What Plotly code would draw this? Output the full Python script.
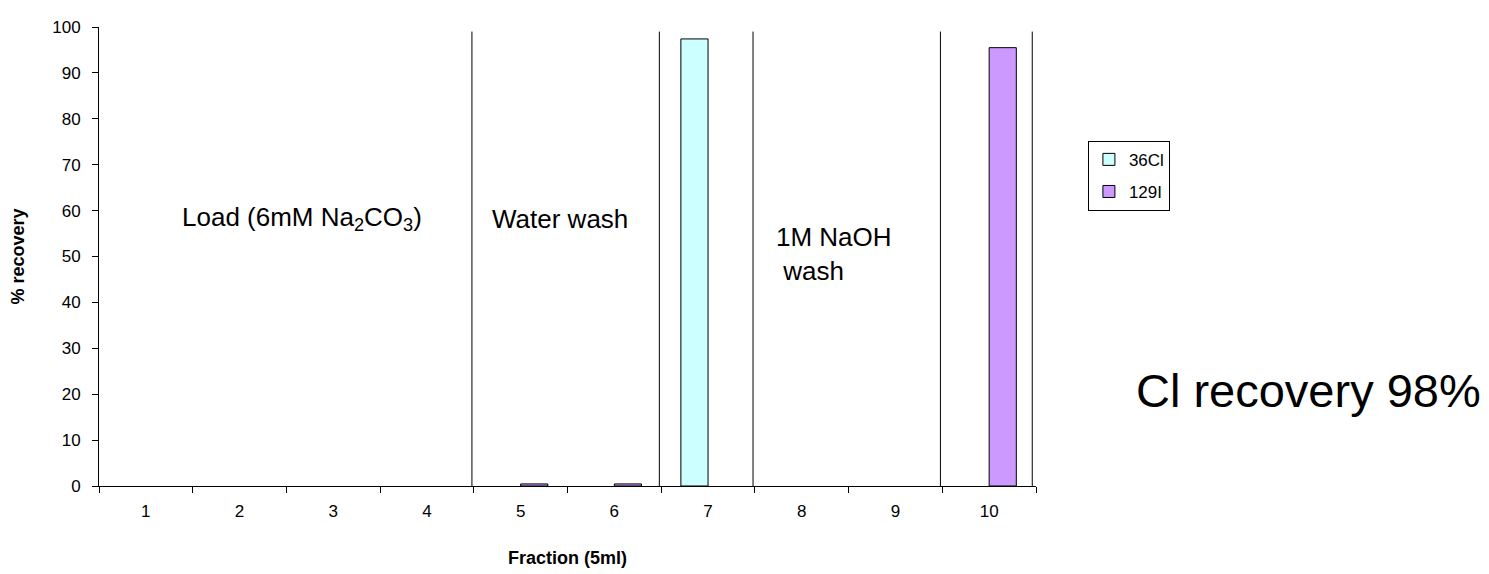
import plotly.graph_objects as go

fractions = ["1", "2", "3", "4", "5", "6", "7", "8", "9", "10"]
cl36 = [None, None, None, None, None, None, 97.4, None, None, None]
i129 = [None, None, None, None, 0.45, 0.45, None, None, None, 95.5]
divider_x = [3.48, 5.48, 6.48, 8.48, 9.46]
divider_top = 99

FONT = "Liberation Sans, Arial, sans-serif"

fig = go.Figure()
fig.add_trace(go.Bar(x=fractions, y=cl36, name="36Cl", legendgroup="a",
                     marker=dict(color="#CCFFFF", line=dict(color="black", width=1))))
fig.add_trace(go.Bar(x=fractions, y=i129, name="129I", legendgroup="b",
                     marker=dict(color="#CC99FF", line=dict(color="black", width=1))))

for xv in divider_x:
    fig.add_shape(type="line", xref="x", yref="y", x0=xv, x1=xv, y0=0, y1=divider_top,
                  line=dict(color="black", width=1))

fig.add_annotation(x=1.67, y=58.2, xref="x", yref="y", showarrow=False,
                   text="Load (6mM Na<sub>2</sub>CO<sub>3</sub>)", font=dict(size=26, family=FONT, color="black"))
fig.add_annotation(x=4.42, y=58.2, xref="x", yref="y", showarrow=False,
                   text="Water wash", font=dict(size=26, family=FONT, color="black"))
fig.add_annotation(x=6.7, y=50.5, xref="x", yref="y", showarrow=False, xanchor="left", align="left",
                   text="1M NaOH<br> wash", font=dict(size=26, family=FONT, color="black"))
fig.add_annotation(x=1.1045, y=0.147, xref="paper", yref="paper", showarrow=False, xanchor="left",
                   text="Cl recovery 98%", font=dict(size=47, family=FONT, color="black"))

fig.update_layout(
    width=1481, height=566,
    margin=dict(l=90, r=453, t=10, b=87),
    plot_bgcolor="white", paper_bgcolor="white",
    barmode="group", bargap=0.42, bargroupgap=0,
    font=dict(family=FONT, color="black"),
    legend=dict(x=1.0554, y=0.752, xanchor="left", yanchor="top",
                bordercolor="black", borderwidth=1, font=dict(size=17, family=FONT),
                itemwidth=30, traceorder="grouped", tracegroupgap=7),
    xaxis=dict(type="category", tickson="boundaries", ticks="outside", ticklen=6,
               tickcolor="black", showline=True, linecolor="black", linewidth=1,
               showgrid=False, tickfont=dict(size=17), range=[-0.5, 9.5],
               ticklabelstandoff=10,
               title=dict(text="<b>Fraction (5ml)</b>", font=dict(size=18), standoff=30)),
    yaxis=dict(range=[0, 100], tickvals=list(range(0, 101, 10)), ticks="outside", ticklen=6,
               tickcolor="black", showline=True, linecolor="black", linewidth=1,
               showgrid=False, zeroline=False, tickfont=dict(size=17),
               ticklabelstandoff=8,
               title=dict(text="<b>% recovery</b>", font=dict(size=18), standoff=22)),
)

fig.write_html("out.html")
